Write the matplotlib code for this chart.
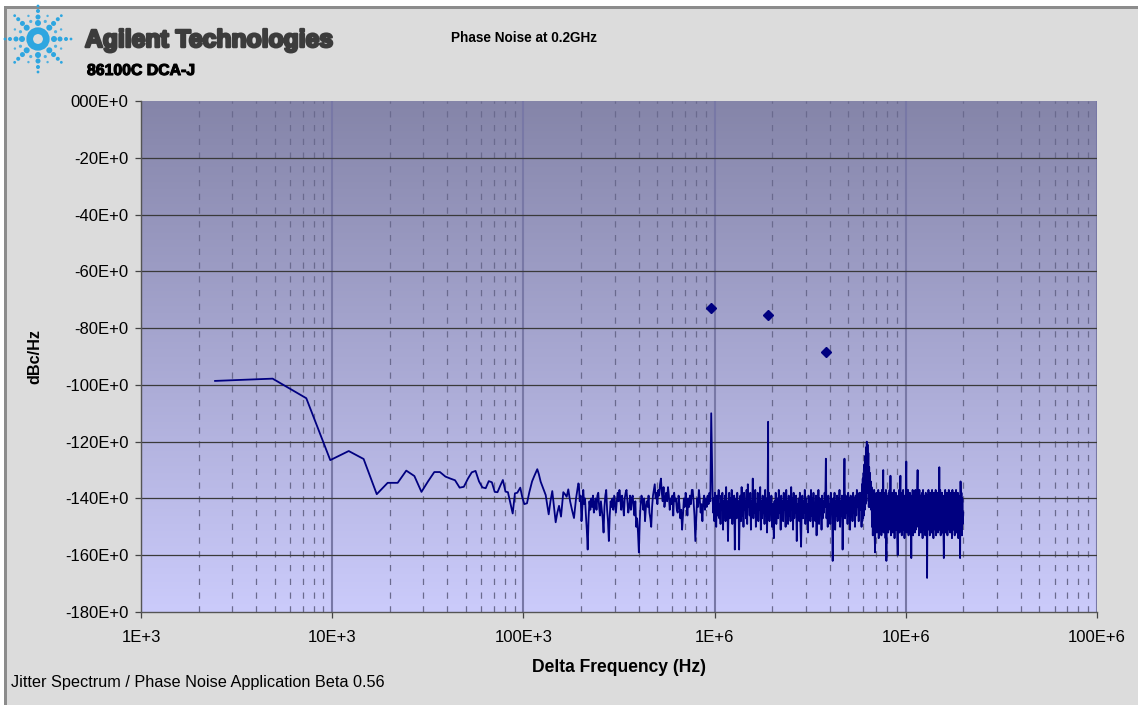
"""
Phase noise plot at 0.2 GHz, styled after the 86100C DCA-J jitter application export.
Writes out.png.
"""

import numpy as np
import matplotlib
matplotlib.use("Agg")
import matplotlib.pyplot as plt
import matplotlib.patheffects as pe
import matplotlib.ticker as mticker
from matplotlib.colors import LinearSegmentedColormap
from matplotlib.patches import Rectangle, Circle

W, H = 1138, 705

# ---- data ---------------------------------------------------------------
# first bins, read one at a time: offset in kHz, level in dBc/Hz
low_khz = [2.44, 4.88, 7.32, 9.77, 12.2, 14.6, 17.1, 19.5, 22.0, 24.4,
           26.9, 29.3, 31.7, 34.2, 36.6, 39.1, 41.5, 43.9, 46.4, 48.8,
           51.3, 53.7, 56.2, 58.6, 61.0, 63.5, 65.9, 68.4, 70.8, 73.2,
           75.7, 78.1, 80.6, 83.0, 85.4, 87.9, 90.3, 92.9, 96.3, 98.6,
           101.1, 104.4, 107.4, 111.0, 114.0, 118.2, 120.5, 123.1, 127.0, 130.8,
           135.6, 138.5, 141.6, 144.5, 147.5, 150.5, 153.6, 157.3, 161.7, 165.0,
           168.4, 171.7, 175.5, 179.5, 183.9, 188.5, 193.8]
low_db = [-98.6, -97.8, -104.7, -126.5, -123.3, -126.1, -138.5, -134.5, -134.5, -130.2,
          -132.1, -137.7, -134.0, -130.7, -130.7, -132.3, -133.0, -133.6, -136.2, -135.9,
          -133.0, -130.8, -130.3, -134.0, -136.1, -136.4, -133.9, -134.3, -137.7, -137.8,
          -135.5, -133.5, -137.6, -137.8, -141.5, -145.3, -138.2, -138.0, -136.2, -139.5,
          -142.0, -141.7, -137.8, -134.0, -132.1, -129.7, -131.5, -134.1, -136.5, -138.8,
          -145.6, -141.0, -137.4, -143.0, -148.4, -145.0, -142.6, -146.4, -137.8, -138.5,
          -139.4, -136.8, -141.0, -144.0, -146.9, -140.0, -134.7]

# dense part of the FFT, read as even runs along the log axis
band1_span = (195e3, 950e3)
band1_db = [
    -135, -141, -139, -148, -143, -137, -142, -140, -146, -151, -158, -147, -141, -144, -140,
    -143, -139, -145, -142, -140, -144, -139, -138, -143, -146, -141, -144, -147, -152, -143,
    -139, -137, -144, -148, -155, -146, -141, -143, -140, -144, -139, -142, -145, -141, -138,
    -141, -137, -140, -144, -139, -142, -146, -140, -138, -137, -141, -145, -143, -139, -144,
    -140, -139, -143, -146, -141, -150, -147, -152, -159, -148, -142, -139, -141, -144, -140,
    -148, -143, -141, -143, -139, -145, -147, -150, -143, -139, -137, -135, -140, -138, -142,
    -137, -139, -135, -133, -138, -141, -136, -143, -140, -138, -141, -136, -139, -144, -140,
    -142, -139, -146, -138, -141, -140, -144, -145, -139, -142, -147, -144, -151, -146, -140,
    -143, -138, -141, -146, -140, -143, -139, -142, -137, -137, -141, -146, -155, -147, -140,
    -143, -137, -140, -145, -142, -148, -141, -139, -144, -140, -143, -139, -142, -138, -141]

band2_span = (975e3, 5.80e6)
band2_db = [
    -137, -145, -140, -148, -138, -143, -150, -139, -146, -141, -137, -147, -142, -149, -139, -144, -138, -151, -141, -146,
    -139, -148, -136, -144, -141, -155, -143, -138, -147, -140, -145, -137, -149, -142, -146, -139, -158, -144, -140, -147,
    -138, -145, -141, -158, -143, -139, -148, -136, -146, -140, -150, -138, -144, -141, -147, -137, -149, -135, -143, -140,
    -146, -138, -151, -141, -144, -133, -147, -139, -145, -137, -150, -142, -146, -138, -148, -140, -144, -136, -151, -141,
    -147, -139, -145, -142, -149, -137, -146, -140, -152, -141, -144, -138, -148, -140, -145, -139, -150, -142, -147, -154,
    -141, -146, -138, -149, -143, -140, -147, -137, -145, -142, -151, -139, -146, -141, -148, -138, -144, -140, -150, -137,
    -145, -141, -149, -139, -146, -142, -148, -136, -144, -140, -151, -138, -147, -141, -145, -139, -155, -142, -146, -140,
    -148, -138, -150, -157, -143, -139, -147, -141, -145, -137, -149, -140, -146, -142, -152, -139, -144, -141, -148, -137,
    -146, -140, -150, -138, -145, -142, -148, -139, -153, -141, -146, -137, -149, -140, -144, -142, -151, -139, -147, -141,
    -145, -138, -143, -126, -147, -140, -150, -139, -146, -142, -149, -138, -145, -141, -162, -140, -147, -138, -151, -141,
    -146, -139, -148, -140, -144, -137, -150, -141, -146, -139, -158, -143, -140, -126, -147, -139, -145, -142, -149, -138,
    -146, -140, -151, -139, -144, -141, -148, -138, -145, -140, -150, -139, -146, -137, -143, -140, -148, -138, -144, -139]

hump_span = (5.84e6, 6.72e6)
hump_db = [-138, -150, -135, -148, -133, -147, -131, -146, -128, -144,
           -125, -142, -122, -141, -120, -138, -121, -136, -124, -143,
           -129, -143, -131, -142, -134, -144, -136, -150, -137, -153]

band3_span = (6.76e6, 19.98e6)
band3_db = [
    -140, -151, -137, -153, -159, -139, -150, -138, -152, -141, -149, -137, -154, -139, -151, -138, -148, -140, -153, -137,
    -150, -141, -130, -152, -138, -149, -140, -154, -137, -162, -139, -150, -141, -152, -138, -148, -137, -151, -132, -153,
    -139, -149, -138, -152, -140, -150, -137, -154, -141, -148, -138, -151, -139, -153, -160, -140, -149, -137, -152, -139,
    -132, -150, -138, -153, -140, -148, -137, -151, -139, -154, -141, -149, -138, -127, -152, -139, -150, -137, -153, -140,
    -148, -138, -152, -139, -161, -141, -150, -137, -153, -138, -149, -140, -152, -137, -151, -139, -148, -138, -130, -150,
    -140, -153, -137, -149, -139, -152, -141, -150, -138, -154, -137, -148, -140, -151, -139, -153, -138, -149, -141, -168,
    -139, -151, -137, -150, -140, -153, -138, -149, -141, -152, -137, -150, -139, -154, -138, -148, -140, -151, -137, -153,
    -139, -149, -138, -152, -140, -150, -129, -151, -137, -153, -141, -149, -138, -152, -139, -150, -161, -140, -148, -137,
    -152, -139, -150, -138, -153, -141, -149, -137, -151, -140, -152, -138, -150, -139, -154, -137, -148, -140, -151, -138,
    -153, -139, -149, -137, -152, -140, -150, -138, -154, -139, -148, -141, -161, -134, -151, -138, -153, -140, -149, -145]

# discrete spurs inside the trace
spur_hz = [0.960e6, 1.905e6]
spur_db = [-110, -113]

# spur markers (diamonds)
marker_hz = [0.96e6, 1.90e6, 3.84e6]
marker_db = [-72.8, -75.5, -88.5]

y_ticks = [0, -20, -40, -60, -80, -100, -120, -140, -160, -180]
y_tick_labels = ["000E+0", "-20E+0", "-40E+0", "-60E+0", "-80E+0",
                 "-100E+0", "-120E+0", "-140E+0", "-160E+0", "-180E+0"]
x_ticks = [1e3, 1e4, 1e5, 1e6, 1e7, 1e8]
x_tick_labels = ["1E+3", "10E+3", "100E+3", "1E+6", "10E+6", "100E+6"]

# ---- styling ------------------------------------------------------------
TRACE = "#000080"
FIG_BG = "#dcdcdc"
FRAME = "#8c8c8c"
LOGO_BLUE = "#2ea6e0"
SANS = ["Liberation Sans", "DejaVu Sans"]


def build_trace():
    f = [np.asarray(low_khz) * 1e3]
    d = [np.asarray(low_db, dtype=float)]
    for span, vals in ((band1_span, band1_db), (band2_span, band2_db),
                       (hump_span, hump_db), (band3_span, band3_db)):
        f.append(np.geomspace(span[0], span[1], len(vals)))
        d.append(np.asarray(vals, dtype=float))
    f.append(np.asarray(spur_hz))
    d.append(np.asarray(spur_db, dtype=float))
    f = np.concatenate(f)
    d = np.concatenate(d)
    order = np.argsort(f)
    return f[order], d[order]


def draw_logo(o, cx, cy):
    o.add_patch(Circle((cx, cy), 8.3, fill=False, lw=4.8, ec=LOGO_BLUE))
    for ang in np.deg2rad(np.arange(0, 360, 45)):
        for r, s in ((16, 3.0), (22, 2.5), (28, 2.0), (33, 1.4)):
            o.add_patch(Circle((cx + r * np.cos(ang), cy + r * np.sin(ang)),
                               s, color=LOGO_BLUE, lw=0))
    for ang in np.deg2rad(np.arange(22.5, 360, 45)):
        for r, s in ((19, 1.6), (25, 1.2)):
            o.add_patch(Circle((cx + r * np.cos(ang), cy + r * np.sin(ang)),
                               s, color=LOGO_BLUE, lw=0, alpha=0.8))


def fit(txt, target_px, vertical=False):
    """Scale a text's font size so its drawn extent matches target_px."""
    r = fig.canvas.get_renderer()
    bb = txt.get_window_extent(r)
    size = bb.height if vertical else bb.width
    txt.set_fontsize(txt.get_fontsize() * target_px / size)


fig = plt.figure(figsize=(W / 100, H / 100), dpi=100, facecolor=FIG_BG)

# pixel overlay for the frame, logo and free text
ov = fig.add_axes([0, 0, 1, 1], zorder=0)
ov.set_xlim(0, W)
ov.set_ylim(H, 0)
ov.axis("off")
ov.add_patch(Rectangle((0, 0), W, 6, color="white", lw=0))
ov.add_patch(Rectangle((0, 0), 4, H, color="white", lw=0))
ov.add_patch(Rectangle((4, 6), W, 3, color=FRAME, lw=0))
ov.add_patch(Rectangle((4, 6), 3, H, color=FRAME, lw=0))
draw_logo(ov, 38, 39)

brand = ov.text(85, 47, "Agilent Technologies", family=SANS, fontweight="bold",
                fontsize=18, color="#3c3c3c", va="baseline",
                path_effects=[pe.withStroke(linewidth=1.8, foreground="#3c3c3c")])
model = ov.text(87, 75, "86100C DCA-J", family=SANS, fontweight="bold",
                fontsize=10, color="black", va="baseline",
                path_effects=[pe.withStroke(linewidth=0.8, foreground="black")])
title = ov.text(524, 38, "Phase Noise at 0.2GHz", family=SANS, fontweight="bold",
                fontsize=10, ha="center", va="center")
footer = ov.text(11, 683, "Jitter Spectrum / Phase Noise Application Beta 0.56",
                 family=SANS, fontsize=11, va="center")

pos = [141 / W, 1 - 612 / H, 956 / W, 511 / H]

# gradient plot area
bg = fig.add_axes(pos, zorder=0.5)
cmap = LinearSegmentedColormap.from_list("area", ["#cbcbfb", "#8585a9"])
bg.imshow(np.linspace(0, 1, 256)[:, None], cmap=cmap, aspect="auto",
          origin="lower", extent=[0, 1, 0, 1])
bg.axis("off")

ax = fig.add_axes(pos, zorder=1)
ax.patch.set_alpha(0)
ax.set_xscale("log")
ax.set_xlim(1e3, 1e8)
ax.set_ylim(-180, 0)

freq, level = build_trace()
ax.plot(freq, level, color=TRACE, lw=1.3, zorder=3)
ax.plot(marker_hz, marker_db, ls="none", marker="D", ms=5.5,
        color=TRACE, zorder=4)

ax.set_xticks(x_ticks)
ax.set_xticklabels(x_tick_labels)
ax.set_yticks(y_ticks)
ax.set_yticklabels(y_tick_labels)
ax.xaxis.set_minor_locator(mticker.LogLocator(base=10, subs=np.arange(2, 10)))
ax.xaxis.set_minor_formatter(mticker.NullFormatter())
ax.tick_params(which="major", direction="out", length=4.5, width=0.9,
               color="#444444", labelsize=12)
ax.tick_params(axis="y", which="major", pad=4.5)
ax.tick_params(axis="x", which="major", pad=8.5)
ax.tick_params(which="minor", length=0)
for lab in ax.get_xticklabels() + ax.get_yticklabels():
    lab.set_family(SANS)

ax.set_axisbelow(True)
ax.grid(True, which="minor", axis="x", color="#6a6a8e", lw=0.9, ls=(0, (5, 6)))
ax.grid(True, which="major", axis="x", color="#7878a6", lw=1.5)
for yv in y_ticks[1:-1]:
    ax.axhline(yv, color="#3a3a3a", lw=0.9, zorder=1)

for side in ("top", "right"):
    ax.spines[side].set_visible(False)
for side in ("left", "bottom"):
    ax.spines[side].set_color("#555555")
    ax.spines[side].set_linewidth(1.0)

xl = ax.set_xlabel("Delta Frequency (Hz)", family=SANS, fontweight="bold", fontsize=12)
yl = ax.set_ylabel("dBc/Hz", family=SANS, fontweight="bold", fontsize=11)
ax.xaxis.set_label_coords(0.5, (612 - 659) / 511)
ax.yaxis.set_label_coords((42 - 141) / 956, 0.5)

fit(brand, 248)
fit(model, 108)
fit(title, 146)
fit(footer, 370)
fit(xl, 174)
fit(yl, 55, vertical=True)

fig.savefig("out.png", dpi=100, facecolor=FIG_BG)
